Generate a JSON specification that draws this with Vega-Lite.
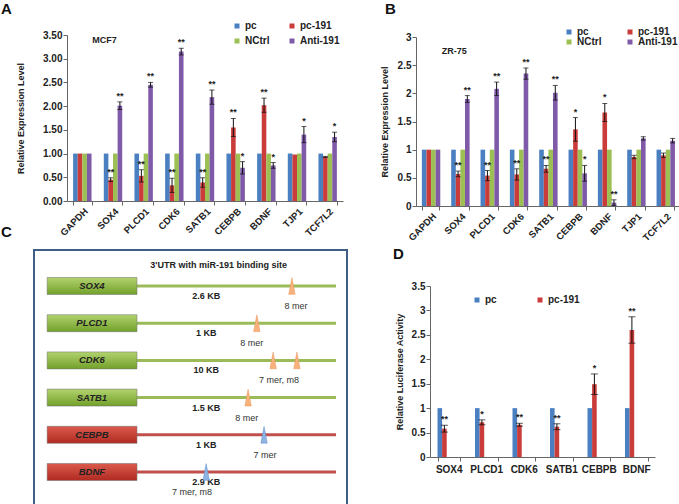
{
  "$schema": "https://vega.github.io/schema/vega-lite/v6.json",
  "autosize": {"type": "pad"},
  "padding": {"left": 0, "top": 2, "right": 0, "bottom": 0},
  "background": "white",
  "config": {
    "font": "Liberation Sans",
    "view": {"stroke": null},
    "axis": {"grid": false, "domainColor": "#666", "tickColor": "#666", "tickSize": 4, "labelFont": "Liberation Sans", "labelFontWeight": "bold", "labelFontSize": 10, "labelColor": "#222", "titleFont": "Liberation Sans", "titleFontWeight": "bold", "titleFontSize": 9, "titleColor": "#222", "labelOverlap": false},
    "axisY": {"tickCount": 8},
    "legend": {"labelFont": "Liberation Sans", "labelFontWeight": "bold", "labelFontSize": 10, "labelColor": "#222", "symbolType": "square", "symbolSize": 25, "symbolStrokeWidth": 0, "padding": 0, "labelOffset": 3, "direction": "horizontal"},
    "title": {"font": "Liberation Sans", "fontSize": 15, "fontWeight": "bold", "color": "#111", "anchor": "start", "frame": "group", "baseline": "alphabetic"}
  },
  "datasets": {
    "expr": [
      {"line": "MCF7", "gene": "GAPDH", "grp": "pc", "v": 1},
      {"line": "MCF7", "gene": "GAPDH", "grp": "pc-191", "v": 1},
      {"line": "MCF7", "gene": "GAPDH", "grp": "NCtrl", "v": 1},
      {"line": "MCF7", "gene": "GAPDH", "grp": "Anti-191", "v": 1},
      {"line": "MCF7", "gene": "SOX4", "grp": "pc", "v": 1},
      {"line": "MCF7", "gene": "SOX4", "grp": "pc-191", "v": 0.45, "lo": 0.41, "hi": 0.49, "sig": "**"},
      {"line": "MCF7", "gene": "SOX4", "grp": "NCtrl", "v": 1},
      {"line": "MCF7", "gene": "SOX4", "grp": "Anti-191", "v": 2.01, "lo": 1.93, "hi": 2.09, "sig": "**"},
      {"line": "MCF7", "gene": "PLCD1", "grp": "pc", "v": 1},
      {"line": "MCF7", "gene": "PLCD1", "grp": "pc-191", "v": 0.53, "lo": 0.40, "hi": 0.66, "sig": "**"},
      {"line": "MCF7", "gene": "PLCD1", "grp": "NCtrl", "v": 1},
      {"line": "MCF7", "gene": "PLCD1", "grp": "Anti-191", "v": 2.45, "lo": 2.40, "hi": 2.50, "sig": "**"},
      {"line": "MCF7", "gene": "CDK6", "grp": "pc", "v": 1},
      {"line": "MCF7", "gene": "CDK6", "grp": "pc-191", "v": 0.33, "lo": 0.18, "hi": 0.48, "sig": "**"},
      {"line": "MCF7", "gene": "CDK6", "grp": "NCtrl", "v": 1},
      {"line": "MCF7", "gene": "CDK6", "grp": "Anti-191", "v": 3.15, "lo": 3.08, "hi": 3.22, "sig": "**"},
      {"line": "MCF7", "gene": "SATB1", "grp": "pc", "v": 1},
      {"line": "MCF7", "gene": "SATB1", "grp": "pc-191", "v": 0.39, "lo": 0.29, "hi": 0.49, "sig": "**"},
      {"line": "MCF7", "gene": "SATB1", "grp": "NCtrl", "v": 1},
      {"line": "MCF7", "gene": "SATB1", "grp": "Anti-191", "v": 2.19, "lo": 2.04, "hi": 2.34, "sig": "**"},
      {"line": "MCF7", "gene": "CEBPB", "grp": "pc", "v": 1},
      {"line": "MCF7", "gene": "CEBPB", "grp": "pc-191", "v": 1.55, "lo": 1.36, "hi": 1.74, "sig": "**"},
      {"line": "MCF7", "gene": "CEBPB", "grp": "NCtrl", "v": 1},
      {"line": "MCF7", "gene": "CEBPB", "grp": "Anti-191", "v": 0.70, "lo": 0.57, "hi": 0.83, "sig": "*"},
      {"line": "MCF7", "gene": "BDNF", "grp": "pc", "v": 1},
      {"line": "MCF7", "gene": "BDNF", "grp": "pc-191", "v": 2.02, "lo": 1.87, "hi": 2.17, "sig": "**"},
      {"line": "MCF7", "gene": "BDNF", "grp": "NCtrl", "v": 1},
      {"line": "MCF7", "gene": "BDNF", "grp": "Anti-191", "v": 0.75, "lo": 0.69, "hi": 0.81, "sig": "*"},
      {"line": "MCF7", "gene": "TJP1", "grp": "pc", "v": 1},
      {"line": "MCF7", "gene": "TJP1", "grp": "pc-191", "v": 0.98},
      {"line": "MCF7", "gene": "TJP1", "grp": "NCtrl", "v": 1},
      {"line": "MCF7", "gene": "TJP1", "grp": "Anti-191", "v": 1.40, "lo": 1.23, "hi": 1.57, "sig": "*"},
      {"line": "MCF7", "gene": "TCF7L2", "grp": "pc", "v": 1},
      {"line": "MCF7", "gene": "TCF7L2", "grp": "pc-191", "v": 0.93, "lo": 0.92, "hi": 0.94},
      {"line": "MCF7", "gene": "TCF7L2", "grp": "NCtrl", "v": 1},
      {"line": "MCF7", "gene": "TCF7L2", "grp": "Anti-191", "v": 1.35, "lo": 1.25, "hi": 1.45, "sig": "*"},
      {"line": "ZR-75", "gene": "GAPDH", "grp": "pc", "v": 1},
      {"line": "ZR-75", "gene": "GAPDH", "grp": "pc-191", "v": 1},
      {"line": "ZR-75", "gene": "GAPDH", "grp": "NCtrl", "v": 1},
      {"line": "ZR-75", "gene": "GAPDH", "grp": "Anti-191", "v": 1},
      {"line": "ZR-75", "gene": "SOX4", "grp": "pc", "v": 1},
      {"line": "ZR-75", "gene": "SOX4", "grp": "pc-191", "v": 0.57, "lo": 0.52, "hi": 0.62, "sig": "**"},
      {"line": "ZR-75", "gene": "SOX4", "grp": "NCtrl", "v": 1},
      {"line": "ZR-75", "gene": "SOX4", "grp": "Anti-191", "v": 1.90, "lo": 1.84, "hi": 1.96, "sig": "**"},
      {"line": "ZR-75", "gene": "PLCD1", "grp": "pc", "v": 1},
      {"line": "ZR-75", "gene": "PLCD1", "grp": "pc-191", "v": 0.54, "lo": 0.45, "hi": 0.63, "sig": "**"},
      {"line": "ZR-75", "gene": "PLCD1", "grp": "NCtrl", "v": 1},
      {"line": "ZR-75", "gene": "PLCD1", "grp": "Anti-191", "v": 2.08, "lo": 1.96, "hi": 2.20, "sig": "**"},
      {"line": "ZR-75", "gene": "CDK6", "grp": "pc", "v": 1},
      {"line": "ZR-75", "gene": "CDK6", "grp": "pc-191", "v": 0.56, "lo": 0.46, "hi": 0.66, "sig": "**"},
      {"line": "ZR-75", "gene": "CDK6", "grp": "NCtrl", "v": 1},
      {"line": "ZR-75", "gene": "CDK6", "grp": "Anti-191", "v": 2.35, "lo": 2.25, "hi": 2.45, "sig": "**"},
      {"line": "ZR-75", "gene": "SATB1", "grp": "pc", "v": 1},
      {"line": "ZR-75", "gene": "SATB1", "grp": "pc-191", "v": 0.66, "lo": 0.60, "hi": 0.72, "sig": "**"},
      {"line": "ZR-75", "gene": "SATB1", "grp": "NCtrl", "v": 1},
      {"line": "ZR-75", "gene": "SATB1", "grp": "Anti-191", "v": 2.01, "lo": 1.88, "hi": 2.14, "sig": "**"},
      {"line": "ZR-75", "gene": "CEBPB", "grp": "pc", "v": 1},
      {"line": "ZR-75", "gene": "CEBPB", "grp": "pc-191", "v": 1.36, "lo": 1.15, "hi": 1.57, "sig": "*"},
      {"line": "ZR-75", "gene": "CEBPB", "grp": "NCtrl", "v": 1},
      {"line": "ZR-75", "gene": "CEBPB", "grp": "Anti-191", "v": 0.58, "lo": 0.44, "hi": 0.72, "sig": "*"},
      {"line": "ZR-75", "gene": "BDNF", "grp": "pc", "v": 1},
      {"line": "ZR-75", "gene": "BDNF", "grp": "pc-191", "v": 1.66, "lo": 1.50, "hi": 1.82, "sig": "*"},
      {"line": "ZR-75", "gene": "BDNF", "grp": "NCtrl", "v": 1},
      {"line": "ZR-75", "gene": "BDNF", "grp": "Anti-191", "v": 0.06, "lo": 0.01, "hi": 0.11, "sig": "**"},
      {"line": "ZR-75", "gene": "TJP1", "grp": "pc", "v": 1},
      {"line": "ZR-75", "gene": "TJP1", "grp": "pc-191", "v": 0.87, "lo": 0.84, "hi": 0.90},
      {"line": "ZR-75", "gene": "TJP1", "grp": "NCtrl", "v": 1},
      {"line": "ZR-75", "gene": "TJP1", "grp": "Anti-191", "v": 1.20, "lo": 1.17, "hi": 1.23},
      {"line": "ZR-75", "gene": "TCF7L2", "grp": "pc", "v": 1},
      {"line": "ZR-75", "gene": "TCF7L2", "grp": "pc-191", "v": 0.90, "lo": 0.86, "hi": 0.94},
      {"line": "ZR-75", "gene": "TCF7L2", "grp": "NCtrl", "v": 1},
      {"line": "ZR-75", "gene": "TCF7L2", "grp": "Anti-191", "v": 1.16, "lo": 1.12, "hi": 1.20}
    ],
    "luc": [
      {"gene": "SOX4", "grp": "pc", "v": 1},
      {"gene": "SOX4", "grp": "pc-191", "v": 0.58, "lo": 0.51, "hi": 0.65, "sig": "**"},
      {"gene": "PLCD1", "grp": "pc", "v": 1},
      {"gene": "PLCD1", "grp": "pc-191", "v": 0.71, "lo": 0.66, "hi": 0.76, "sig": "*"},
      {"gene": "CDK6", "grp": "pc", "v": 1},
      {"gene": "CDK6", "grp": "pc-191", "v": 0.66, "lo": 0.63, "hi": 0.69, "sig": "**"},
      {"gene": "SATB1", "grp": "pc", "v": 1},
      {"gene": "SATB1", "grp": "pc-191", "v": 0.62, "lo": 0.56, "hi": 0.68, "sig": "**"},
      {"gene": "CEBPB", "grp": "pc", "v": 1},
      {"gene": "CEBPB", "grp": "pc-191", "v": 1.49, "lo": 1.28, "hi": 1.70, "sig": "*"},
      {"gene": "BDNF", "grp": "pc", "v": 1},
      {"gene": "BDNF", "grp": "pc-191", "v": 2.60, "lo": 2.33, "hi": 2.87, "sig": "**"}
    ],
    "utr": [
      {"gene": "SOX4", "cls": "down", "kb": "2.6 KB"},
      {"gene": "PLCD1", "cls": "down", "kb": "1 KB"},
      {"gene": "CDK6", "cls": "down", "kb": "10 KB"},
      {"gene": "SATB1", "cls": "down", "kb": "1.5 KB"},
      {"gene": "CEBPB", "cls": "up", "kb": "1 KB"},
      {"gene": "BDNF", "cls": "up", "kb": "2.9 KB"}
    ],
    "sites": [
      {"gene": "SOX4", "cls": "down", "pos": 82.4},
      {"gene": "PLCD1", "cls": "down", "pos": 71.2},
      {"gene": "CDK6", "cls": "down", "pos": 76.4},
      {"gene": "CDK6", "cls": "down", "pos": 84.0},
      {"gene": "SATB1", "cls": "down", "pos": 68.4},
      {"gene": "CEBPB", "cls": "up", "pos": 73.5},
      {"gene": "BDNF", "cls": "up", "pos": 55.0}
    ],
    "siteLabels": [
      {"gene": "SOX4", "pos": 83.7, "label": "8 mer"},
      {"gene": "PLCD1", "pos": 69.6, "label": "8 mer"},
      {"gene": "CDK6", "pos": 78.3, "label": "7 mer, m8"},
      {"gene": "SATB1", "pos": 68.0, "label": "8 mer"},
      {"gene": "CEBPB", "pos": 73.8, "label": "7 mer"},
      {"gene": "BDNF", "pos": 50.5, "label": "7 mer, m8"}
    ]
  },
  "columns": 2,
  "bounds": "flush",
  "spacing": {"row": 44, "column": 69},
  "resolve": {"scale": {"color": "independent"}, "legend": {"color": "independent"}},
  "concat": [
    {
      "width": 309, "height": 166,
      "title": {"text": "A", "dx": -33, "offset": 4},
      "data": {"name": "expr"},
      "transform": [{"filter": "datum.line === 'MCF7'"}],
      "layer": [
        {
          "mark": {"type": "bar"},
          "encoding": {
            "x": {"field": "gene", "type": "nominal", "sort": ["GAPDH","SOX4","PLCD1","CDK6","SATB1","CEBPB","BDNF","TJP1","TCF7L2"], "scale": {"range": [33, 309], "paddingInner": 0.4, "paddingOuter": 0.2}, "axis": {"title": null, "labelAngle": -45, "tickBand": "extent", "labelPadding": 1, "labelFontSize": 9.5}},
            "xOffset": {"field": "grp", "type": "nominal", "sort": ["pc","pc-191","NCtrl","Anti-191"], "scale": {"paddingInner": 0, "paddingOuter": 0}},
            "y": {"field": "v", "type": "quantitative", "scale": {"domain": [0, 3.5], "nice": false}, "axis": {"title": "Relative Expression Level", "values": [0,0.5,1,1.5,2,2.5,3,3.5], "format": ".2f", "offset": -33, "labelPadding": 1, "titlePadding": 17}},
            "color": {"field": "grp", "type": "nominal", "sort": ["pc","pc-191","NCtrl","Anti-191"], "scale": {"domain": ["pc","pc-191","NCtrl","Anti-191"], "range": ["#4A7FC1","#C93C3A","#9CC054","#7F5AA8"]}, "legend": {"title": null, "orient": "none", "legendX": 198, "legendY": -14, "columns": 2, "columnPadding": 17, "rowPadding": 5}}
          }
        },
        {
          "transform": [{"filter": "isValid(datum.hi)"}],
          "mark": {"type": "rule", "color": "#111", "strokeWidth": 1},
          "encoding": {
            "x": {"field": "gene", "type": "nominal", "sort": ["GAPDH","SOX4","PLCD1","CDK6","SATB1","CEBPB","BDNF","TJP1","TCF7L2"]},
            "xOffset": {"field": "grp", "type": "nominal", "sort": ["pc","pc-191","NCtrl","Anti-191"]},
            "y": {"field": "lo", "type": "quantitative"},
            "y2": {"field": "hi"}
          }
        },
        {
          "transform": [{"filter": "isValid(datum.hi)"}],
          "mark": {"type": "tick", "color": "#111", "size": 5, "thickness": 1, "orient": "horizontal"},
          "encoding": {
            "x": {"field": "gene", "type": "nominal", "sort": ["GAPDH","SOX4","PLCD1","CDK6","SATB1","CEBPB","BDNF","TJP1","TCF7L2"]},
            "xOffset": {"field": "grp", "type": "nominal", "sort": ["pc","pc-191","NCtrl","Anti-191"]},
            "y": {"field": "hi", "type": "quantitative"}
          }
        },
        {
          "transform": [{"filter": "isValid(datum.lo)"}],
          "mark": {"type": "tick", "color": "#111", "size": 5, "thickness": 1, "orient": "horizontal"},
          "encoding": {
            "x": {"field": "gene", "type": "nominal", "sort": ["GAPDH","SOX4","PLCD1","CDK6","SATB1","CEBPB","BDNF","TJP1","TCF7L2"]},
            "xOffset": {"field": "grp", "type": "nominal", "sort": ["pc","pc-191","NCtrl","Anti-191"]},
            "y": {"field": "lo", "type": "quantitative"}
          }
        },
        {
          "transform": [{"filter": "isValid(datum.sig)"}],
          "mark": {"type": "text", "baseline": "bottom", "dy": -1, "fontSize": 9, "fontWeight": "bold", "color": "#222"},
          "encoding": {
            "x": {"field": "gene", "type": "nominal", "sort": ["GAPDH","SOX4","PLCD1","CDK6","SATB1","CEBPB","BDNF","TJP1","TCF7L2"]},
            "xOffset": {"field": "grp", "type": "nominal", "sort": ["pc","pc-191","NCtrl","Anti-191"]},
            "y": {"field": "hi", "type": "quantitative"},
            "text": {"field": "sig"}
          }
        },
        {
          "data": {"values": [{"label": "MCF7"}]},
          "mark": {"type": "text", "align": "left", "baseline": "middle", "dx": 10, "fontSize": 9, "fontWeight": "bold", "color": "#222"},
          "encoding": {
            "x": {"datum": "GAPDH", "type": "nominal"},
            "y": {"datum": 3.39, "type": "quantitative"},
            "text": {"field": "label"}
          }
        }
      ]
    },
    {
      "width": 264, "height": 171,
      "title": {"text": "B", "dx": -31, "offset": 10},
      "data": {"name": "expr"},
      "transform": [{"filter": "datum.line === 'ZR-75'"}],
      "layer": [
        {
          "mark": {"type": "bar"},
          "encoding": {
            "x": {"field": "gene", "type": "nominal", "sort": ["GAPDH","SOX4","PLCD1","CDK6","SATB1","CEBPB","BDNF","TJP1","TCF7L2"], "scale": {"paddingInner": 0.4, "paddingOuter": 0.2}, "axis": {"title": null, "labelAngle": -45, "tickBand": "extent", "labelPadding": 1, "labelFontSize": 9.5}},
            "xOffset": {"field": "grp", "type": "nominal", "sort": ["pc","pc-191","NCtrl","Anti-191"], "scale": {"paddingInner": 0, "paddingOuter": 0}},
            "y": {"field": "v", "type": "quantitative", "scale": {"domain": [0, 3], "nice": false, "range": [171, 2]}, "axis": {"title": "Relative Expression Level", "values": [0,0.5,1,1.5,2,2.5,3], "format": "~g", "labelPadding": 1, "titlePadding": 8}},
            "color": {"field": "grp", "type": "nominal", "sort": ["pc","pc-191","NCtrl","Anti-191"], "scale": {"domain": ["pc","pc-191","NCtrl","Anti-191"], "range": ["#4A7FC1","#C93C3A","#9CC054","#7F5AA8"]}, "legend": {"title": null, "orient": "none", "legendX": 148, "legendY": -8, "columns": 2, "columnPadding": 23, "rowPadding": 0}}
          }
        },
        {
          "transform": [{"filter": "isValid(datum.hi)"}],
          "mark": {"type": "rule", "color": "#111", "strokeWidth": 1},
          "encoding": {
            "x": {"field": "gene", "type": "nominal", "sort": ["GAPDH","SOX4","PLCD1","CDK6","SATB1","CEBPB","BDNF","TJP1","TCF7L2"]},
            "xOffset": {"field": "grp", "type": "nominal", "sort": ["pc","pc-191","NCtrl","Anti-191"]},
            "y": {"field": "lo", "type": "quantitative"},
            "y2": {"field": "hi"}
          }
        },
        {
          "transform": [{"filter": "isValid(datum.hi)"}],
          "mark": {"type": "tick", "color": "#111", "size": 5, "thickness": 1, "orient": "horizontal"},
          "encoding": {
            "x": {"field": "gene", "type": "nominal", "sort": ["GAPDH","SOX4","PLCD1","CDK6","SATB1","CEBPB","BDNF","TJP1","TCF7L2"]},
            "xOffset": {"field": "grp", "type": "nominal", "sort": ["pc","pc-191","NCtrl","Anti-191"]},
            "y": {"field": "hi", "type": "quantitative"}
          }
        },
        {
          "transform": [{"filter": "isValid(datum.lo)"}],
          "mark": {"type": "tick", "color": "#111", "size": 5, "thickness": 1, "orient": "horizontal"},
          "encoding": {
            "x": {"field": "gene", "type": "nominal", "sort": ["GAPDH","SOX4","PLCD1","CDK6","SATB1","CEBPB","BDNF","TJP1","TCF7L2"]},
            "xOffset": {"field": "grp", "type": "nominal", "sort": ["pc","pc-191","NCtrl","Anti-191"]},
            "y": {"field": "lo", "type": "quantitative"}
          }
        },
        {
          "transform": [{"filter": "isValid(datum.sig)"}],
          "mark": {"type": "text", "baseline": "bottom", "dy": -1, "fontSize": 9, "fontWeight": "bold", "color": "#222"},
          "encoding": {
            "x": {"field": "gene", "type": "nominal", "sort": ["GAPDH","SOX4","PLCD1","CDK6","SATB1","CEBPB","BDNF","TJP1","TCF7L2"]},
            "xOffset": {"field": "grp", "type": "nominal", "sort": ["pc","pc-191","NCtrl","Anti-191"]},
            "y": {"field": "hi", "type": "quantitative"},
            "text": {"field": "sig"}
          }
        },
        {
          "data": {"values": [{"label": "ZR-75"}]},
          "mark": {"type": "text", "align": "left", "baseline": "middle", "dx": 11, "fontSize": 9, "fontWeight": "bold", "color": "#222"},
          "encoding": {
            "x": {"datum": "GAPDH", "type": "nominal"},
            "y": {"datum": 2.75, "type": "quantitative"},
            "text": {"field": "label"}
          }
        }
      ]
    },
    {
      "width": 313, "height": 255,
      "title": {"text": "C", "dx": -33, "offset": 10},
      "view": {"stroke": "#3F5E86", "strokeWidth": 2},
      "layer": [
        {
          "data": {"name": "utr"},
          "mark": {"type": "rule", "strokeWidth": 3},
          "encoding": {
            "x": {"datum": 32.9, "type": "quantitative", "scale": {"domain": [0, 100], "nice": false}, "axis": null},
            "x2": {"datum": 96.5},
            "y": {"field": "gene", "type": "nominal", "sort": ["SOX4","PLCD1","CDK6","SATB1","CEBPB","BDNF"], "scale": {"type": "point", "range": [36, 222], "padding": 0}, "axis": null},
            "color": {"field": "cls", "type": "nominal", "scale": {"domain": ["down","up"], "range": ["#9BBB59","#C0504D"]}, "legend": null}
          }
        },
        {
          "data": {"name": "utr"},
          "mark": {"type": "bar", "size": 17, "stroke": "#6E6E6E", "strokeWidth": 0.5},
          "encoding": {
            "x": {"datum": 4.2, "type": "quantitative"},
            "x2": {"datum": 32.9},
            "y": {"field": "gene", "type": "nominal", "sort": ["SOX4","PLCD1","CDK6","SATB1","CEBPB","BDNF"]},
            "fill": {
              "condition": {"test": "datum.cls === 'down'", "value": {"gradient": "linear", "x1": 0, "y1": 0, "x2": 0, "y2": 1, "stops": [{"offset": 0, "color": "#B2D36E"}, {"offset": 1, "color": "#72A02A"}]}},
              "value": {"gradient": "linear", "x1": 0, "y1": 0, "x2": 0, "y2": 1, "stops": [{"offset": 0, "color": "#DA5A4C"}, {"offset": 1, "color": "#B02A22"}]}
            }
          }
        },
        {
          "data": {"name": "utr"},
          "mark": {"type": "text", "fontSize": 9.5, "fontWeight": "bold", "fontStyle": "italic", "color": "#222", "baseline": "middle"},
          "encoding": {
            "x": {"datum": 18.5, "type": "quantitative"},
            "y": {"field": "gene", "type": "nominal", "sort": ["SOX4","PLCD1","CDK6","SATB1","CEBPB","BDNF"]},
            "text": {"field": "gene"}
          }
        },
        {
          "data": {"name": "utr"},
          "mark": {"type": "text", "fontSize": 9, "fontWeight": "bold", "color": "#222", "baseline": "middle", "dy": 10},
          "encoding": {
            "x": {"datum": 55, "type": "quantitative"},
            "y": {"field": "gene", "type": "nominal", "sort": ["SOX4","PLCD1","CDK6","SATB1","CEBPB","BDNF"]},
            "text": {"field": "kb"}
          }
        },
        {
          "data": {"name": "sites"},
          "mark": {"type": "point", "filled": true, "opacity": 1, "size": 280, "shape": "M0,-1L0.38,1L-0.38,1Z", "strokeWidth": 0.5},
          "encoding": {
            "x": {"field": "pos", "type": "quantitative"},
            "y": {"field": "gene", "type": "nominal", "sort": ["SOX4","PLCD1","CDK6","SATB1","CEBPB","BDNF"]},
            "fill": {"field": "cls", "type": "nominal", "scale": {"domain": ["down","up"], "range": ["#F7B27C","#8DB4E2"]}, "legend": null},
            "stroke": {"field": "cls", "type": "nominal", "scale": {"domain": ["down","up"], "range": ["#E8955A","#5F8DC8"]}, "legend": null}
          }
        },
        {
          "data": {"name": "siteLabels"},
          "mark": {"type": "text", "fontSize": 9, "color": "#333", "baseline": "middle", "dy": 20},
          "encoding": {
            "x": {"field": "pos", "type": "quantitative"},
            "y": {"field": "gene", "type": "nominal", "sort": ["SOX4","PLCD1","CDK6","SATB1","CEBPB","BDNF"]},
            "text": {"field": "label"}
          }
        },
        {
          "data": {"values": [{"label": "3'UTR with miR-191 binding site"}]},
          "mark": {"type": "text", "fontSize": 9, "fontWeight": "bold", "color": "#222", "baseline": "middle", "dy": -21},
          "encoding": {
            "x": {"datum": 59, "type": "quantitative"},
            "y": {"datum": "SOX4", "type": "nominal"},
            "text": {"field": "label"}
          }
        }
      ]
    },
    {
      "width": 239, "height": 207,
      "title": {"text": "D", "dx": -23, "offset": -12},
      "data": {"name": "luc"},
      "layer": [
        {
          "mark": {"type": "bar"},
          "encoding": {
            "x": {"field": "gene", "type": "nominal", "sort": ["SOX4","PLCD1","CDK6","SATB1","CEBPB","BDNF"], "scale": {"range": [14, 239], "paddingInner": 0.4, "paddingOuter": 0.2}, "axis": {"title": null, "labelAngle": 0, "tickBand": "extent", "labelPadding": 3}},
            "xOffset": {"field": "grp", "type": "nominal", "sort": ["pc","pc-191"], "scale": {"paddingInner": 0, "paddingOuter": 0}},
            "y": {"field": "v", "type": "quantitative", "scale": {"domain": [0, 3.5], "nice": false, "range": [207, 36]}, "axis": {"title": "Relative Luciferase Activity", "values": [0,0.5,1,1.5,2,2.5,3,3.5], "format": "~g", "offset": -14, "labelPadding": 1, "titlePadding": 7}},
            "color": {"field": "grp", "type": "nominal", "sort": ["pc","pc-191"], "scale": {"domain": ["pc","pc-191"], "range": ["#4A7FC1","#C93C3A"]}, "legend": {"title": null, "orient": "none", "legendX": 56, "legendY": 45, "columns": 2, "columnPadding": 38}}
          }
        },
        {
          "transform": [{"filter": "isValid(datum.hi)"}],
          "mark": {"type": "rule", "color": "#111", "strokeWidth": 1},
          "encoding": {
            "x": {"field": "gene", "type": "nominal", "sort": ["SOX4","PLCD1","CDK6","SATB1","CEBPB","BDNF"]},
            "xOffset": {"field": "grp", "type": "nominal", "sort": ["pc","pc-191"]},
            "y": {"field": "lo", "type": "quantitative"},
            "y2": {"field": "hi"}
          }
        },
        {
          "transform": [{"filter": "isValid(datum.hi)"}],
          "mark": {"type": "tick", "color": "#111", "size": 7, "thickness": 1, "orient": "horizontal"},
          "encoding": {
            "x": {"field": "gene", "type": "nominal", "sort": ["SOX4","PLCD1","CDK6","SATB1","CEBPB","BDNF"]},
            "xOffset": {"field": "grp", "type": "nominal", "sort": ["pc","pc-191"]},
            "y": {"field": "hi", "type": "quantitative"}
          }
        },
        {
          "transform": [{"filter": "isValid(datum.lo)"}],
          "mark": {"type": "tick", "color": "#111", "size": 7, "thickness": 1, "orient": "horizontal"},
          "encoding": {
            "x": {"field": "gene", "type": "nominal", "sort": ["SOX4","PLCD1","CDK6","SATB1","CEBPB","BDNF"]},
            "xOffset": {"field": "grp", "type": "nominal", "sort": ["pc","pc-191"]},
            "y": {"field": "lo", "type": "quantitative"}
          }
        },
        {
          "transform": [{"filter": "isValid(datum.sig)"}],
          "mark": {"type": "text", "baseline": "bottom", "dy": -1, "fontSize": 9, "fontWeight": "bold", "color": "#222"},
          "encoding": {
            "x": {"field": "gene", "type": "nominal", "sort": ["SOX4","PLCD1","CDK6","SATB1","CEBPB","BDNF"]},
            "xOffset": {"field": "grp", "type": "nominal", "sort": ["pc","pc-191"]},
            "y": {"field": "hi", "type": "quantitative"},
            "text": {"field": "sig"}
          }
        }
      ]
    }
  ]
}
